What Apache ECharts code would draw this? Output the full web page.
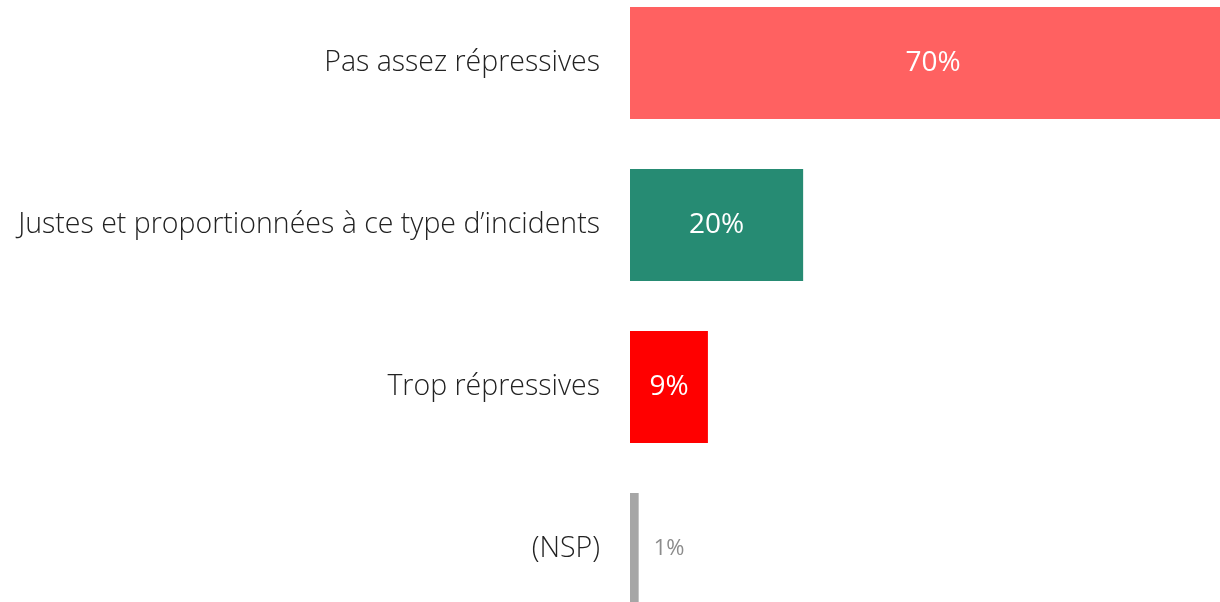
<!DOCTYPE html>
<html>
<head>
<meta charset="utf-8">
<script src="https://cdn.jsdelivr.net/npm/echarts@6/dist/echarts.min.js"></script>
<style>
html, body { margin: 0; padding: 0; background: #fff; overflow: hidden; width: 1220px; height: 602px; }
#chart { position: absolute; left: 0; top: -18px; width: 1236px; height: 648px; }
</style>
</head>
<body>
<div id="chart"></div>
<script>
// catégories, du haut vers le bas
const categories = ['Pas assez répressives', 'Justes et proportionnées à ce type d’incidents', 'Trop répressives', '(NSP)'];
const values = [70, 20, 9, 1];
const barColors = ['#FF6161', '#268B73', '#FF0000', '#A6A6A6'];

const chart = echarts.init(document.getElementById('chart'));

const seriesData = values.map((v, i) => {
    const item = { value: v, itemStyle: { color: barColors[i] } };
    if (v < 5) {
        // petite barre : étiquette à droite, en gris
        item.label = { position: 'right', distance: 15, color: '#8C8C8C', fontSize: 22, fontWeight: 400 };
    }
    return item;
});

const option = {
    animation: false,
    grid: { left: 630, right: 0, top: 0, bottom: 0, containLabel: false },
    xAxis: {
        type: 'value',
        min: 0,
        max: 70,
        show: false
    },
    yAxis: {
        type: 'category',
        inverse: true,
        data: categories,
        axisLine: { show: false },
        axisTick: { show: false },
        axisLabel: {
            margin: 30,
            color: '#222',
            fontSize: 28.5,
            fontFamily: 'Open Sans',
            fontWeight: 300,
            padding: [4, 0, 0, 0]
        }
    },
    series: [{
        type: 'bar',
        data: seriesData,
        barCategoryGap: '31%',
        label: {
            show: true,
            position: 'inside',
            color: '#fff',
            fontSize: 28,
            fontFamily: 'Open Sans',
            fontWeight: 400,
            padding: [4, 0, 0, 0],
            formatter: p => p.value + '%'
        }
    }]
};

chart.setOption(option);
</script>
</body>
</html>
